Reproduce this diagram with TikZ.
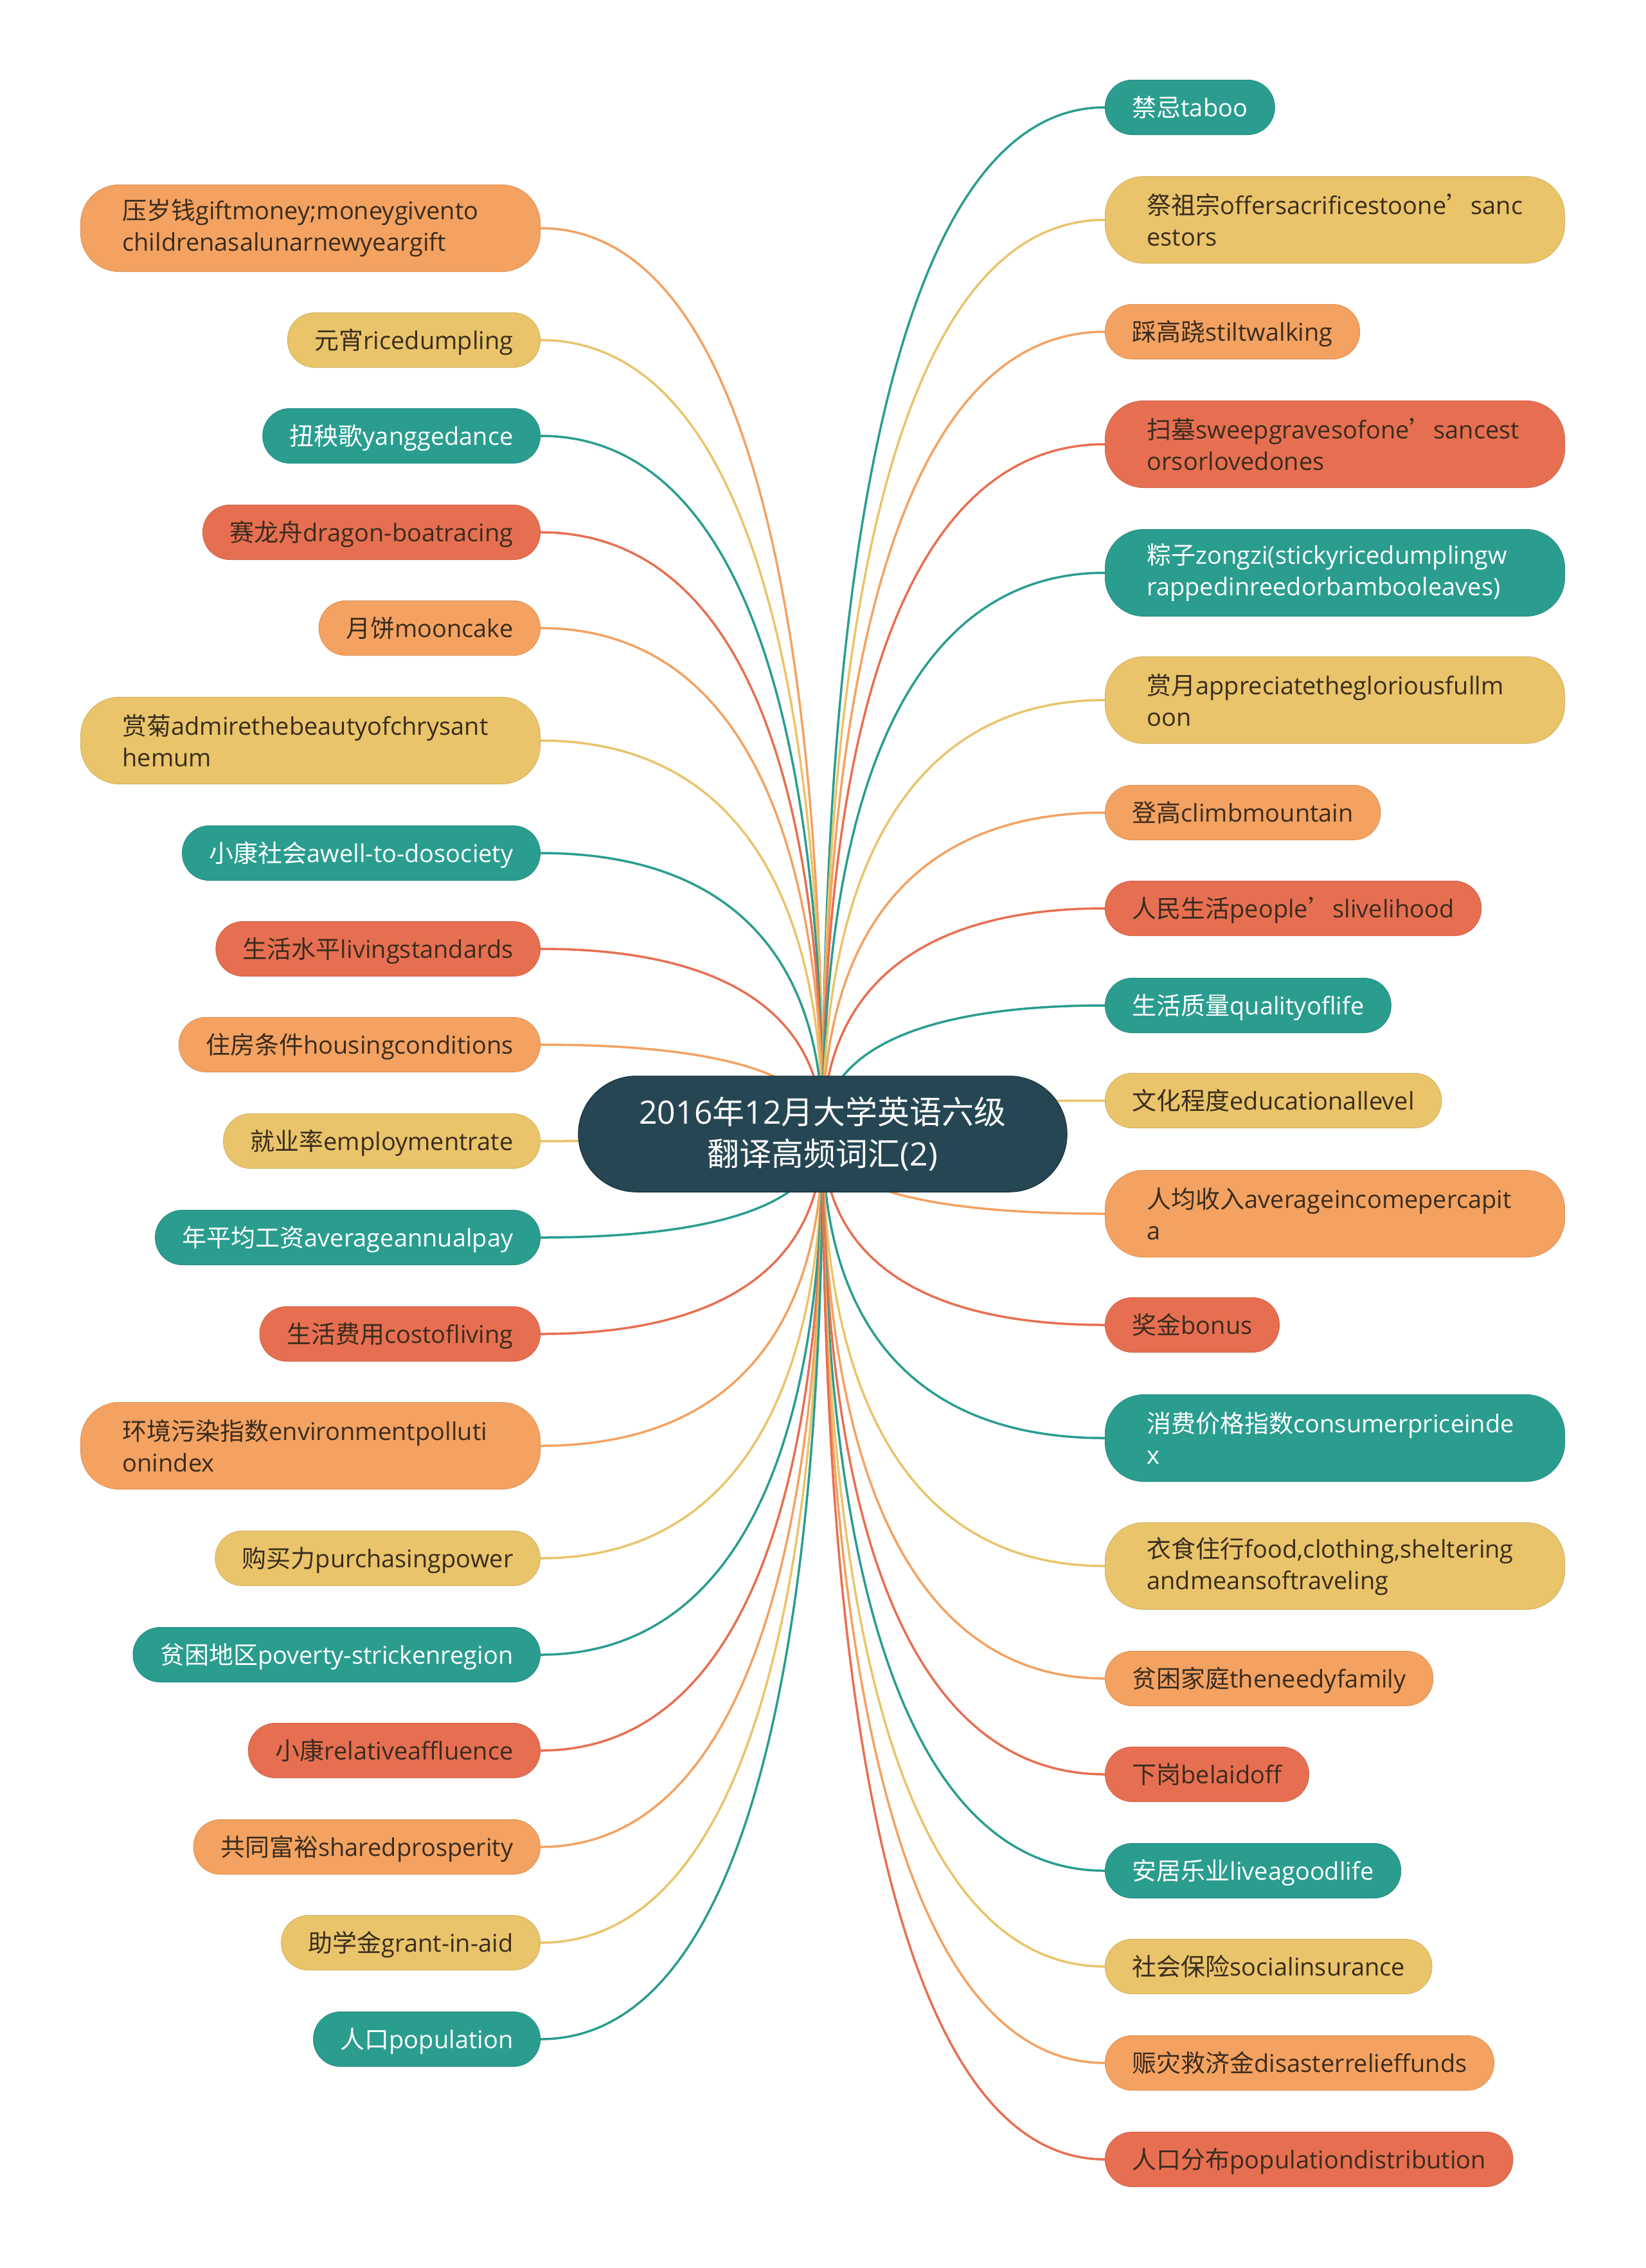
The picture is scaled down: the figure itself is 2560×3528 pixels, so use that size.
\documentclass[tikz,border=0pt]{standalone}
\usepackage{fontspec}
\setmainfont{Open Sans}
\newfontfamily\cjkfont{Noto Sans CJK SC}
\usetikzlibrary{calc,backgrounds}
\definecolor{cT}{HTML}{2A9D8F}
\definecolor{cY}{HTML}{E9C46A}
\definecolor{cO}{HTML}{F4A261}
\definecolor{cR}{HTML}{E76F51}
\definecolor{cD}{HTML}{264653}
\definecolor{cK}{HTML}{3A2C1E}
\newcommand\C[1]{{\cjkfont #1}}
\tikzset{
  box/.style={rounded corners=42pt, minimum height=85pt, inner xsep=42pt, inner ysep=0pt,
    font=\fontsize{38pt}{49pt}\selectfont},
  one/.style={text height=33pt, text depth=4pt},
  two/.style={rounded corners=60pt, minimum height=135pt, text width=585pt, align=left, inner xsep=65pt},
  tbox/.style={box, fill=cT, draw=cT!92!black, line width=1pt, text=white},
  ybox/.style={box, fill=cY, draw=cY!92!black, line width=1pt, text=cK},
  obox/.style={box, fill=cO, draw=cO!92!black, line width=1pt, text=cK},
  rbox/.style={box, fill=cR, draw=cR!92!black, line width=1pt, text=cK},
  centerbox/.style={fill=cD, draw=cD!80!black, line width=1.5pt, text=white, rounded corners=90pt,
    minimum width=760pt, minimum height=180pt, align=center,
    font=\fontsize{50pt}{65pt}\selectfont},
  edge/.style={line width=3.5pt},
  lft/.style={anchor=east},
  rgt/.style={anchor=west}
}
\newcommand\edgeL[2]{\draw[edge,draw=#2] let \p1=(ctr.center), \p2=(#1.east) in
  (\p1) .. controls (\x1,{\y1+0.6*(\y2-\y1)}) and ({\x1+0.3*(\x2-\x1)},\y2) .. (\p2);}
\newcommand\edgeR[2]{\draw[edge,draw=#2] let \p1=(ctr.center), \p2=(#1.west) in
  (\p1) .. controls (\x1,{\y1+0.6*(\y2-\y1)}) and ({\x1+0.3*(\x2-\x1)},\y2) .. (\p2);}
\begin{document}
\hyphenpenalty=10000
\exhyphenpenalty=10000
\begin{tikzpicture}[x=1pt,y=1pt]
\useasboundingbox (0,0) rectangle (2560,-3528);
% centre
\node[centerbox] (ctr) at (1280,-1764) {2016\C{年}12\C{月大学英语六级}\\\C{翻译高频词汇}(2)};
% left
\node[obox,two,lft] (L1) at (841,-355) {\C{压岁钱}giftmoney;moneygivento\\childrenasalunarnewyeargift};
\node[ybox,one,lft] (L2) at (841,-529) {\C{元宵}ricedumpling};
\node[tbox,one,lft] (L3) at (841,-678) {\C{扭秧歌}yanggedance};
\node[rbox,one,lft] (L4) at (841,-828) {\C{赛龙舟}dragon-boatracing};
\node[obox,one,lft] (L5) at (841,-977) {\C{月饼}mooncake};
\node[ybox,two,lft] (L6) at (841,-1152) {\C{赏菊}admirethebeautyofchrysant\\hemum};
\node[tbox,one,lft] (L7) at (841,-1327) {\C{小康社会}awell-to-dosociety};
\node[rbox,one,lft] (L8) at (841,-1476) {\C{生活水平}livingstandards};
\node[obox,one,lft] (L9) at (841,-1625) {\C{住房条件}housingconditions};
\node[ybox,one,lft] (L10) at (841,-1775) {\C{就业率}employmentrate};
\node[tbox,one,lft] (L11) at (841,-1925) {\C{年平均工资}averageannualpay};
\node[rbox,one,lft] (L12) at (841,-2075) {\C{生活费用}costofliving};
\node[obox,two,lft] (L13) at (841,-2249) {\C{环境污染指数}environmentpolluti\\onindex};
\node[ybox,one,lft] (L14) at (841,-2424) {\C{购买力}purchasingpower};
\node[tbox,one,lft] (L15) at (841,-2574) {\C{贫困地区}poverty-strickenregion};
\node[rbox,one,lft] (L16) at (841,-2723) {\C{小康}relativeaffluence};
\node[obox,one,lft] (L17) at (841,-2873) {\C{共同富裕}sharedprosperity};
\node[ybox,one,lft] (L18) at (841,-3022) {\C{助学金}grant-in-aid};
\node[tbox,one,lft] (L19) at (841,-3172) {\C{人口}population};
% right
\node[tbox,one,rgt] (R1) at (1719,-167) {\C{禁忌}taboo};
\node[ybox,two,rgt] (R2) at (1719,-342) {\C{祭祖宗}offersacrificestoone\C{’}sanc\\estors};
\node[obox,one,rgt] (R3) at (1719,-516) {\C{踩高跷}stiltwalking};
\node[rbox,two,rgt] (R4) at (1719,-691) {\C{扫墓}sweepgravesofone\C{’}sancest\\orsorlovedones};
\node[tbox,two,rgt] (R5) at (1719,-891) {\C{粽子}zongzi(stickyricedumplingw\\rappedinreedorbambooleaves)};
\node[ybox,two,rgt] (R6) at (1719,-1089) {\C{赏月}appreciatethegloriousfullm\\oon};
\node[obox,one,rgt] (R7) at (1719,-1264) {\C{登高}climbmountain};
\node[rbox,one,rgt] (R8) at (1719,-1413) {\C{人民生活}people\C{’}slivelihood};
\node[tbox,one,rgt] (R9) at (1719,-1564) {\C{生活质量}qualityoflife};
\node[ybox,one,rgt] (R10) at (1719,-1712) {\C{文化程度}educationallevel};
\node[obox,two,rgt] (R11) at (1719,-1888) {\C{人均收入}averageincomepercapit\\a};
\node[rbox,one,rgt] (R12) at (1719,-2061) {\C{奖金}bonus};
\node[tbox,two,rgt] (R13) at (1719,-2237) {\C{消费价格指数}consumerpriceinde\\x};
\node[ybox,two,rgt] (R14) at (1719,-2436) {\C{衣食住行}food,clothing,sheltering\\andmeansoftraveling};
\node[obox,one,rgt] (R15) at (1719,-2611) {\C{贫困家庭}theneedyfamily};
\node[rbox,one,rgt] (R16) at (1719,-2760) {\C{下岗}belaidoff};
\node[tbox,one,rgt] (R17) at (1719,-2910) {\C{安居乐业}liveagoodlife};
\node[ybox,one,rgt] (R18) at (1719,-3059) {\C{社会保险}socialinsurance};
\node[obox,one,rgt] (R19) at (1719,-3209) {\C{赈灾救济金}disasterrelieffunds};
\node[rbox,one,rgt] (R20) at (1719,-3359) {\C{人口分布}populationdistribution};
\begin{scope}[on background layer]
\fill[white] (0,0) rectangle (2560,-3528);
\edgeL{L1}{cO}\edgeL{L2}{cY}\edgeL{L3}{cT}\edgeL{L4}{cR}\edgeL{L5}{cO}
\edgeL{L6}{cY}\edgeL{L7}{cT}\edgeL{L8}{cR}\edgeL{L9}{cO}\edgeL{L10}{cY}
\edgeL{L11}{cT}\edgeL{L12}{cR}\edgeL{L13}{cO}\edgeL{L14}{cY}\edgeL{L15}{cT}
\edgeL{L16}{cR}\edgeL{L17}{cO}\edgeL{L18}{cY}\edgeL{L19}{cT}
\edgeR{R1}{cT}\edgeR{R2}{cY}\edgeR{R3}{cO}\edgeR{R4}{cR}\edgeR{R5}{cT}
\edgeR{R6}{cY}\edgeR{R7}{cO}\edgeR{R8}{cR}\edgeR{R9}{cT}\edgeR{R10}{cY}
\edgeR{R11}{cO}\edgeR{R12}{cR}\edgeR{R13}{cT}\edgeR{R14}{cY}\edgeR{R15}{cO}
\edgeR{R16}{cR}\edgeR{R17}{cT}\edgeR{R18}{cY}\edgeR{R19}{cO}\edgeR{R20}{cR}
\end{scope}
\end{tikzpicture}
\end{document}
